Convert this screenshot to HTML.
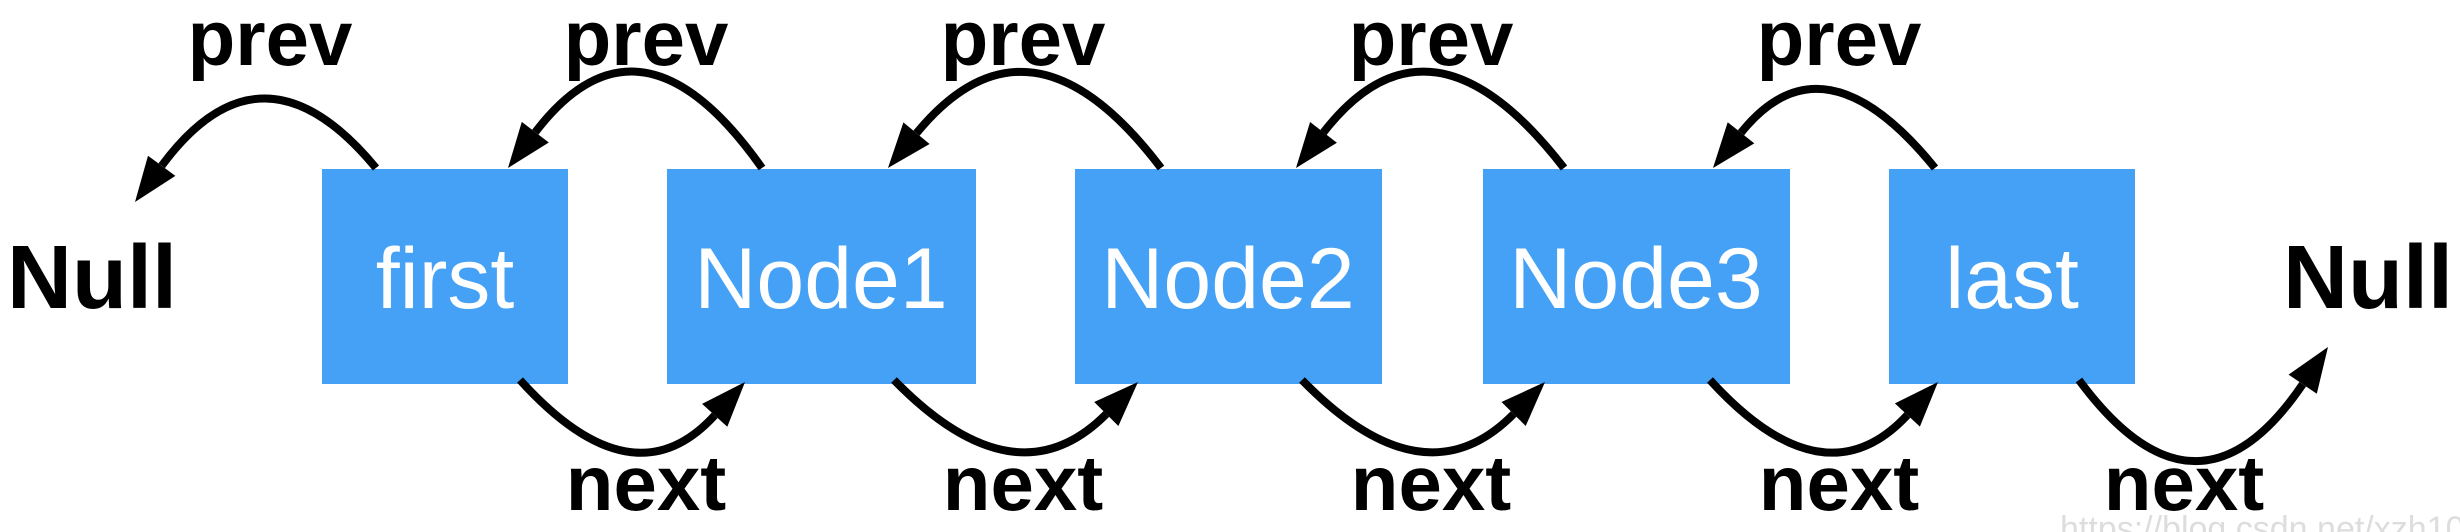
<!DOCTYPE html>
<html><head><meta charset="utf-8"><style>
html,body{margin:0;padding:0;background:#fff;}
svg{display:block;}
</style></head><body>
<svg width="2460" height="532" viewBox="0 0 2460 532" xmlns="http://www.w3.org/2000/svg">
<g fill="#45a1f5">
<rect x="322" y="169" width="246" height="215"/>
<rect x="667" y="169" width="309" height="215"/>
<rect x="1075" y="169" width="307" height="215"/>
<rect x="1483" y="169" width="307" height="215"/>
<rect x="1889" y="169" width="246" height="215"/>
</g>
<g font-family="Liberation Sans, sans-serif" font-size="86" fill="#fff" text-anchor="middle">
<text x="445" y="308">first</text>
<text x="821" y="308">Node1</text>
<text x="1228" y="308">Node2</text>
<text x="1636" y="308">Node3</text>
<text x="2012" y="308">last</text>
</g>
<g font-family="Liberation Sans, sans-serif" font-weight="bold" fill="#000" text-anchor="middle">
<text x="92" y="308" font-size="90">Null</text>
<text x="2368" y="308" font-size="90">Null</text>
<g font-size="78">
<text x="270" y="65">prev</text>
<text x="646" y="65">prev</text>
<text x="1023" y="65">prev</text>
<text x="1431" y="65">prev</text>
<text x="1839" y="65">prev</text>
<text x="646" y="510">next</text>
<text x="1023" y="510">next</text>
<text x="1431" y="510">next</text>
<text x="1839" y="510">next</text>
<text x="2184" y="510">next</text>
</g>
</g>
<g fill="none" stroke="#000" stroke-width="8">
<path d="M376,168 Q262,30 161.7,165.8"/>
<path d="M762,168 Q640,-5 535.3,132.2"/>
<path d="M1161,168 Q1030,-5 916.5,133.2"/>
<path d="M1564,168 Q1430,-5 1323.5,132.4"/>
<path d="M1935,168 Q1823,30 1741,132.8"/>
<path d="M520,380 Q633,505 714.7,415.3"/>
<path d="M894,380 Q1016,505 1106.3,414"/>
<path d="M1302,380 Q1424,505 1513.6,414"/>
<path d="M1710,380 Q1824,505 1907.4,415"/>
<path d="M2079,380 Q2197,540 2302.7,384.2"/>
</g>
<g fill="#000">
<polygon points="135,202 148.0,155.7 175.4,175.9"/>
<polygon points="508,168 521.8,121.9 548.8,142.5"/>
<polygon points="888,168 903.4,122.4 929.6,144.0"/>
<polygon points="1296,168 1310.1,122.0 1336.9,142.8"/>
<polygon points="1713,168 1727.7,122.2 1754.3,143.4"/>
<polygon points="745,382 727.3,426.7 702.1,403.9"/>
<polygon points="1138,382 1118.4,426 1094.2,402"/>
<polygon points="1545,382 1525.7,426 1501.5,402"/>
<polygon points="1938,382 1919.9,426.6 1894.9,403.4"/>
<polygon points="2328,347 2316.8,393.8 2288.6,374.6"/>
</g>
<text x="2060" y="540" font-family="Liberation Sans, sans-serif" font-size="34" fill="#ddd">https://blog.csdn.net/xzh109</text>
</svg>
</body></html>
